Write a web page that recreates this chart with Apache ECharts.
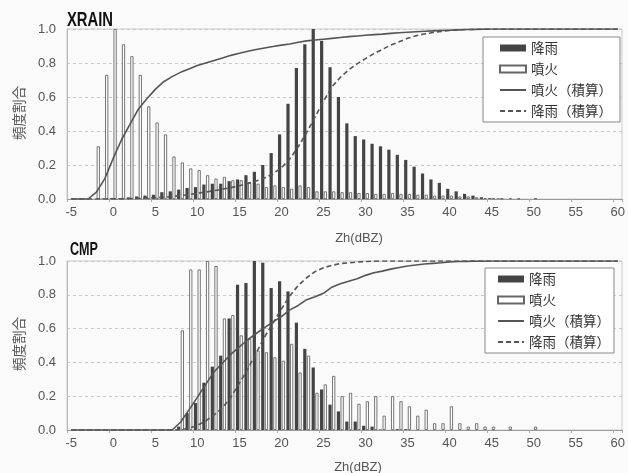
<!DOCTYPE html>
<html><head><meta charset="utf-8">
<script src="https://cdn.jsdelivr.net/npm/echarts@6/dist/echarts.min.js"></script>
<style>html,body{margin:0;padding:0;background:#fafafa}#c{width:628px;height:473px}</style>
</head><body><div id="c"></div>
<script>
// Zh (dBZ) categories
const categories = [-5,-4,-3,-2,-1,0,1,2,3,4,5,6,7,8,9,10,11,12,13,14,15,16,17,18,19,20,21,22,23,24,25,26,27,28,29,30,31,32,33,34,35,36,37,38,39,40,41,42,43,44,45,46,47,48,49,50,51,52,53,54,55,56,57,58,59,60];
const yTicks = [0,0.2,0.4,0.6,0.8,1.0];

// XRAIN panel
const xrainRain = [
  null,null,null,null,0.003,0.005,0.005,0.01,0.015,0.02,
  0.025,0.04,0.045,0.055,0.065,0.07,0.085,0.09,0.09,0.105,
  0.115,0.14,0.16,0.2,0.27,0.38,0.56,0.77,0.91,1.0,
  0.93,0.775,0.6,0.445,0.37,0.35,0.325,0.31,0.29,0.26,
  0.23,0.19,0.15,0.115,0.095,0.06,0.045,0.03,0.02,0.01,
  0.005,0.003,null,null,null,null,null,null,null,null,
  null,null,null,null,null,null];
const xrainErupt = [
  null,null,null,0.31,0.73,1.0,0.91,0.84,0.73,0.545,
  0.45,0.38,0.25,0.215,0.18,0.17,0.14,0.12,0.13,0.11,
  0.11,0.10,0.09,0.07,0.08,0.07,0.06,0.08,0.07,0.045,
  0.045,0.045,0.04,0.04,0.035,0.035,0.03,0.03,0.035,0.03,
  0.03,0.025,0.025,0.02,0.02,0.02,0.015,0.015,0.01,0.005,
  0.005,0.003,0.005,0.003,null,0.003,null,null,null,null,
  null,null,null,null,null,null];
const xrainEruptCum = [
  0,0,0,0.04,0.12,0.24,0.35,0.44,0.53,0.59,
  0.645,0.69,0.72,0.745,0.765,0.785,0.80,0.815,0.83,0.845,
  0.857,0.869,0.879,0.888,0.897,0.905,0.912,0.922,0.93,0.935,
  0.94,0.945,0.95,0.955,0.959,0.963,0.967,0.97,0.974,0.978,
  0.981,0.984,0.987,0.989,0.991,0.993,0.995,0.997,0.998,0.999,
  1,1,1,1,1,1,1,1,1,1,
  1,1,1,1,1,1];
const xrainRainCum = [
  0,0,0,0,0,0.001,0.001,0.002,0.004,0.005,
  0.008,0.011,0.015,0.02,0.026,0.033,0.041,0.049,0.058,0.067,
  0.078,0.091,0.106,0.124,0.149,0.184,0.236,0.307,0.391,0.483,
  0.575,0.66,0.715,0.76,0.795,0.826,0.855,0.88,0.905,0.925,
  0.945,0.96,0.971,0.979,0.986,0.991,0.995,0.997,0.998,0.999,
  1,1,1,1,1,1,1,1,1,1,
  1,1,1,1,1,1];

// CMP panel
const cmpRain = [
  null,null,null,null,null,null,null,null,null,null,
  null,null,null,0.02,0.10,0.16,0.28,0.375,0.44,0.66,
  0.86,0.87,1.0,0.99,0.84,0.88,0.82,0.635,0.48,0.37,
  0.24,0.15,0.11,0.05,0.05,0.025,0.02,0.003,null,0.005,
  0.005,null,null,null,null,null,null,null,null,null,
  null,null,null,null,null,null,null,null,null,null,
  null,null,null,null,null,null];
const cmpErupt = [
  null,null,null,null,null,null,null,null,null,null,
  null,null,null,0.59,0.95,0.95,1.0,0.97,0.66,0.68,
  0.56,0.54,0.47,0.46,0.43,0.41,0.51,0.34,0.44,0.22,
  0.27,0.32,0.20,0.22,0.155,0.17,0.20,0.085,0.20,0.17,
  0.14,0.085,0.12,0.04,0.04,0.14,0.04,0.02,0.04,0.02,
  0.02,null,0.02,null,null,0.02,null,null,null,null,
  null,null,null,null,null,null];
const cmpEruptCum = [
  0,0,0,0,0,0,0,0,0,0,
  0,0,0,0.046,0.119,0.193,0.27,0.345,0.396,0.449,
  0.492,0.534,0.571,0.606,0.64,0.671,0.711,0.737,0.771,0.788,
  0.809,0.845,0.865,0.88,0.895,0.915,0.93,0.94,0.952,0.962,
  0.97,0.976,0.982,0.986,0.99,0.995,0.997,0.998,0.999,0.999,
  1,1,1,1,1,1,1,1,1,1,
  1,1,1,1,1,1];
const cmpRainCum = [
  0,0,0,0,0,0,0,0,0,0,
  0,0,0,0.002,0.011,0.027,0.054,0.09,0.132,0.195,
  0.277,0.361,0.456,0.551,0.632,0.716,0.795,0.855,0.901,0.937,
  0.96,0.974,0.985,0.989,0.994,0.997,0.999,1,1,1,
  1,1,1,1,1,1,1,1,1,1,
  1,1,1,1,1,1,1,1,1,1,
  1,1,1,1,1,1];

const NAME_RAIN = '降雨', NAME_ERUPT = '噴火', NAME_ERUPT_CUM = '噴火（積算）', NAME_RAIN_CUM = '降雨（積算）';
const panelTitles = ['XRAIN', 'CMP'];
const yName = '頻度割合';
const xName = 'Zh(dBZ)';

const jp = '"Noto Sans CJK JP", sans-serif';
const latin = '"Liberation Sans", Arial, sans-serif';

function xAxisCfg(gi) {
  return {
    type: 'category', gridIndex: gi, data: categories, boundaryGap: true,
    axisLine: {lineStyle: {color: '#999', width: 1}},
    axisTick: {show: true, interval: 4, length: 3, lineStyle: {color: '#aaa'}},
    axisLabel: {interval: 4, color: '#555', fontSize: 13, fontFamily: latin, margin: 7},
    splitLine: {show: false}
  };
}
function yAxisCfg(gi) {
  return {
    type: 'value', gridIndex: gi, min: yTicks[0], max: yTicks[yTicks.length-1], interval: 0.2,
    axisLine: {show: true, lineStyle: {color: '#bbb'}},
    axisTick: {show: false},
    axisLabel: {color: '#555', fontSize: 13, fontFamily: latin, margin: 11, formatter: v => v.toFixed(1)},
    splitLine: {show: true, lineStyle: {color: '#c8c8c8', type: [3, 3], width: 1}}
  };
}
function barSeries(name, data, gi, style) {
  return {name, type: 'bar', xAxisIndex: gi, yAxisIndex: gi, data,
    barWidth: 3.2, barGap: '15%', itemStyle: style, emphasis: {disabled: true}};
}
function lineSeries(name, data, gi, type) {
  return {name, type: 'line', xAxisIndex: gi, yAxisIndex: gi, data, symbol: 'none', z: 5,
    lineStyle: {color: '#555', width: 1.6, type: type}, itemStyle: {color: '#555'},
    emphasis: {disabled: true}};
}
const rainStyle = {color: '#444'};
const eruptStyle = {color: '#fff', borderColor: '#666', borderWidth: 0.9};
const hiddenSymbol = {color: 'transparent', borderColor: 'transparent', borderWidth: 0, opacity: 0};

function legendCfg(left, top, padding) {
  return {
    orient: 'vertical', left, top, padding, itemGap: 5, itemWidth: 26, itemHeight: 7,
    selectedMode: false, borderColor: '#888', borderWidth: 1, backgroundColor: '#fff',
    textStyle: {fontSize: 13.5, color: '#333', fontFamily: jp, lineHeight: 16},
    data: [
      {name: NAME_RAIN, icon: 'rect'},
      {name: NAME_ERUPT, icon: 'rect'},
      {name: NAME_ERUPT_CUM, itemStyle: hiddenSymbol},
      {name: NAME_RAIN_CUM, itemStyle: hiddenSymbol}
    ]
  };
}

const option = {
  backgroundColor: '#fafafa',
  animation: false,
  grid: [
    {left: 67, top: 29, width: 556, height: 170, show: true, borderColor: '#ccc', borderWidth: 1},
    {left: 67, top: 261, width: 556, height: 169, show: true, borderColor: '#ccc', borderWidth: 1}
  ],
  xAxis: [xAxisCfg(0), xAxisCfg(1)],
  yAxis: [yAxisCfg(0), yAxisCfg(1)],
  legend: [legendCfg(483, 37, [3, 8, 3, 16]), legendCfg(485, 268, [3, 4, 3, 12])],
  series: [
    barSeries(NAME_RAIN, xrainRain, 0, rainStyle),
    barSeries(NAME_ERUPT, xrainErupt, 0, eruptStyle),
    lineSeries(NAME_ERUPT_CUM, xrainEruptCum, 0, 'solid'),
    lineSeries(NAME_RAIN_CUM, xrainRainCum, 0, [5, 3]),
    barSeries(NAME_RAIN, cmpRain, 1, rainStyle),
    barSeries(NAME_ERUPT, cmpErupt, 1, eruptStyle),
    lineSeries(NAME_ERUPT_CUM, cmpEruptCum, 1, 'solid'),
    lineSeries(NAME_RAIN_CUM, cmpRainCum, 1, [5, 3])
  ],
  graphic: [
    {type: 'text', x: 67, y: 20, scaleX: 0.74, style: {text: panelTitles[0], x: 0, y: 0, textAlign: 'left', textVerticalAlign: 'middle', font: 'bold 20px ' + latin, fill: '#111'}},
    {type: 'text', x: 70, y: 250, scaleX: 0.7, style: {text: panelTitles[1], x: 0, y: 0, textAlign: 'left', textVerticalAlign: 'middle', font: 'bold 18px ' + latin, fill: '#111'}},
    {type: 'text', x: 19, y: 113, rotation: Math.PI / 2, style: {text: yName, x: 0, y: 0, textAlign: 'center', textVerticalAlign: 'middle', font: '13.5px ' + jp, fill: '#555'}},
    {type: 'text', x: 19, y: 344, rotation: Math.PI / 2, style: {text: yName, x: 0, y: 0, textAlign: 'center', textVerticalAlign: 'middle', font: '13.5px ' + jp, fill: '#555'}},
    {type: 'text', x: 359, y: 238, style: {text: xName, x: 0, y: 0, textAlign: 'center', textVerticalAlign: 'middle', font: '13px ' + latin, fill: '#555'}},
    {type: 'text', x: 358, y: 467, style: {text: xName, x: 0, y: 0, textAlign: 'center', textVerticalAlign: 'middle', font: '13px ' + latin, fill: '#555'}}
  ]
};
echarts.init(document.getElementById('c'), null, {renderer: 'canvas'}).setOption(option);
</script></body></html>
